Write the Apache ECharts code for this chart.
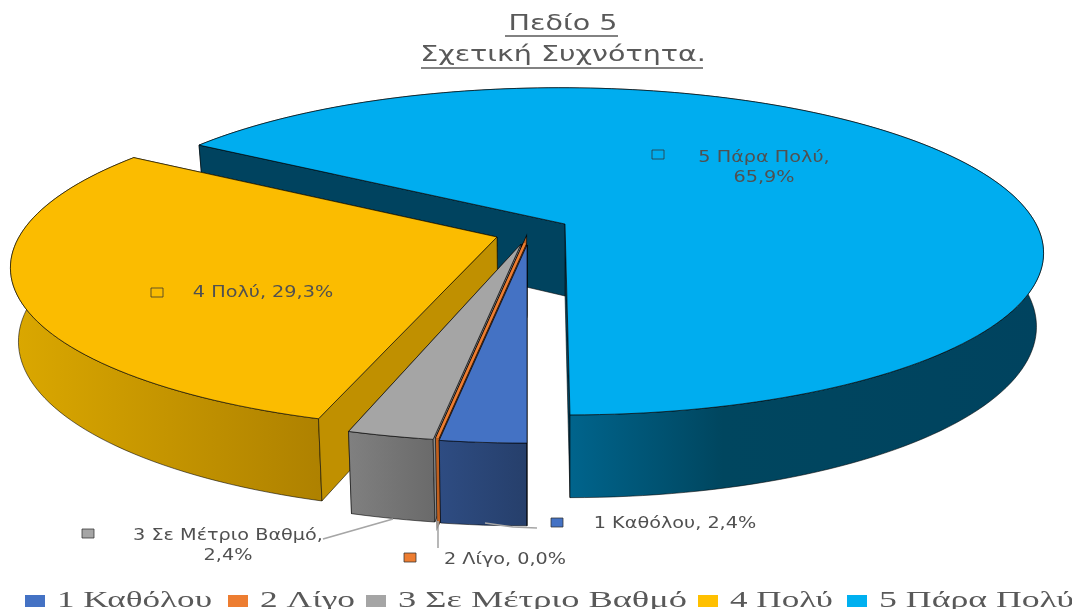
<!DOCTYPE html>
<html><head><meta charset="utf-8">
<style>html,body{margin:0;padding:0;background:#fff}#c{width:1072px;height:609px}</style>
<script src="https://cdn.jsdelivr.net/npm/echarts@6/dist/echarts.min.js"></script>
</head><body><div id="c"></div>
<script>
const categories = ['1 Καθόλου','2 Λίγο','3 Σε Μέτριο Βαθμό','4 Πολύ','5 Πάρα Πολύ'];
const percents = [2.4, 0.0, 2.4, 29.3, 65.9];
const legendColors = ['#4472C4','#ED7D31','#A5A5A5','#FFC000','#00B0F0'];
const topColors = ['#4472C4','#ED7D31','#A5A5A5','#FBBC00','#00ADEF'];
const titleText = 'Πεδίο 5\nΣχετική Συχνότητα.';

const startDeg = 180, wallH = 72, wallK = 0.13, shrink = 0.985;
const geom = [
  {x:527,y:245,R:488,Ry:165,k:0.167,sk:0,vx:530,inner:'#2A4576',outer:[[0,'#2E4C82'],[1,'#263F6B']]},
  {x:525,y:243,R:488,Ry:165,k:0.167,sk:0,vx:530,inner:'#C0601F',outer:[[0,'#C0601F'],[1,'#C0601F']]},
  {x:521,y:244,R:488,Ry:165,k:0.167,sk:0,vx:545,inner:'#8A8A8A',outer:[[0,'#808080'],[1,'#6A6A6A']]},
  {x:497,y:237,R:478,Ry:160,k:0.167,sk:-10,vx:545,inner:'#C09000',outer:[[0,'#DBA800'],[1,'#AE8100']]},
  {x:565,y:224,R:471,Ry:159,k:0.167,sk:5,vx:570,inner:'#00435F',outer:[[0,'#00648C'],[0.44,'#00648C'],[0.62,'#00465F'],[1,'#00435F']]}
];
const labels = [
  {sq:[557,523],tx:675,ty:524,sep:', ',lead:[[485,523],[513,527],[537,528]]},
  {sq:[410,558],tx:505,ty:560,sep:', ',lead:[[438,521],[438,548]]},
  {sq:[88,534],tx:228,ty:546,sep:',\n',lead:[[323,539],[393,519]]},
  {sq:[157,293],tx:263,ty:293,sep:', ',lead:null},
  {sq:[658,155],tx:764,ty:168,sep:',\n',lead:null}
];
const legendLefts = [25,228,366,698,847];
const legendWidths = [155,95,289,103,195];

const rad = d => d*Math.PI/180;
function topPt(g,a,r){const u=Math.sin(a)*r,v=-Math.cos(a)*r,w=1-g.k*v;return [g.x+g.R*u/w+g.sk*v,g.y+g.Ry*v/w];}
function botPt(g,a,r){const p=topPt(g,a,r),v=-Math.cos(a)*r;return [g.vx+(p[0]-g.vx)*shrink,p[1]+wallH/(1-wallK*v)];}
const fmt = v => v.toFixed(1).replace('.',',')+'%';
const EDGE='rgba(0,0,0,0.8)';

function renderSlice(i){
  return function(params,api){
    const value=api.value(0), g=geom[i];
    let before=0; for(let j=0;j<i;j++) before+=percents[j];
    const a0=rad(startDeg+before*3.6), a1=a0+rad(value*3.6);
    const n=Math.max(1,Math.round((a1-a0)/rad(1.5)));
    const topArc=[],botArc=[];
    for(let s=0;s<=n;s++){const a=a0+(a1-a0)*s/n;topArc.push(topPt(g,a,1));botArc.push(botPt(g,a,1));}
    const tA=topPt(g,0,0),bA=botPt(g,0,0);
    const ch=[];
    const poly=(pts,fill,stroke,lw)=>ch.push({type:'polygon',shape:{points:pts},style:{fill,stroke,lineWidth:lw}});
    const grad=new echarts.graphic.LinearGradient(0,0,1,0,g.outer.map(s=>({offset:s[0],color:s[1]})));
    if(value===0){
      poly([tA,topArc[0],botArc[0],bA],g.inner,EDGE,4.2);
      poly([tA,topArc[0],botArc[0],bA],g.inner,g.inner,2.6);
      poly([tA,topArc[0]],topColors[i],EDGE,4.2);
      poly([tA,topArc[0]],topColors[i],topColors[i],2.6);
    }else{
      poly([tA,topArc[n],botArc[n],bA],g.inner,EDGE,0.7);
      poly(topArc.concat(botArc.slice().reverse()),grad,EDGE,0.7);
      poly([tA,topArc[0],botArc[0],bA],g.inner,EDGE,0.7);
      poly([tA].concat(topArc),topColors[i],EDGE,0.8);
    }
    const L=labels[i];
    if(L.lead) ch.push({type:'polyline',shape:{points:L.lead},style:{stroke:'#A6A6A6',lineWidth:1.6,fill:null}});
    ch.push({type:'rect',shape:{x:L.sq[0]-6,y:L.sq[1]-5,width:12,height:9},style:{fill:topColors[i],stroke:'rgba(50,50,50,0.75)',lineWidth:1}});
    ch.push({type:'text',x:L.tx,y:L.ty,scaleX:1.24,style:{text:categories[i]+L.sep+fmt(value),fill:'#505050',font:'15.5px "DejaVu Sans"',align:'center',verticalAlign:'middle',lineHeight:20}});
    return {type:'group',children:ch};
  };
}

const series=[4,3,2,1,0].map(i=>({
  type:'custom',name:categories[i],coordinateSystem:'none',
  data:[[percents[i]]],silent:true,animation:false,
  itemStyle:{color:legendColors[i]},
  renderItem:renderSlice(i)
}));

const chart=echarts.init(document.getElementById('c'),null,{renderer:'canvas'});
chart.setOption({
  animation:false,backgroundColor:'#fff',
  title:{text:titleText,left:563,top:9,textAlign:'center',padding:0,
    textStyle:{fontFamily:'DejaVu Sans',fontSize:21,fontWeight:'normal',color:'#595959',lineHeight:31}},
  legend:categories.map((c,i)=>({
    data:[c],left:legendLefts[i],top:589,padding:0,icon:'rect',itemWidth:20,itemHeight:12,
    textStyle:{fontFamily:'Liberation Serif',fontSize:24,color:'#595959'},
    selectedMode:false
  })),
  series,
  graphic:[
    {type:'line',shape:{x1:505,y1:36,x2:618,y2:36},style:{stroke:'#595959',lineWidth:1.5}},
    {type:'line',shape:{x1:421,y1:68,x2:703,y2:68},style:{stroke:'#595959',lineWidth:1.5}}
  ]
});
// The reference's title and legend text is stretched horizontally.
const zr=chart.getZr();
zr.storage.getRoots().forEach(root=>{
  if(!root.traverse) return;
  root.traverse(el=>{
    const t=el.style&&el.style.text;
    if(t===titleText){el.originX=el.style.x||0;el.scaleX=1.36;el.markRedraw();}
    const li=categories.indexOf(t);
    if(li>=0){
      el.originX=el.style.x||0;
      el.x+=7;
      el.scaleX=legendWidths[li]/el.getBoundingRect().width;
      el.markRedraw();
    }
  });
});
zr.flush();
</script></body></html>
